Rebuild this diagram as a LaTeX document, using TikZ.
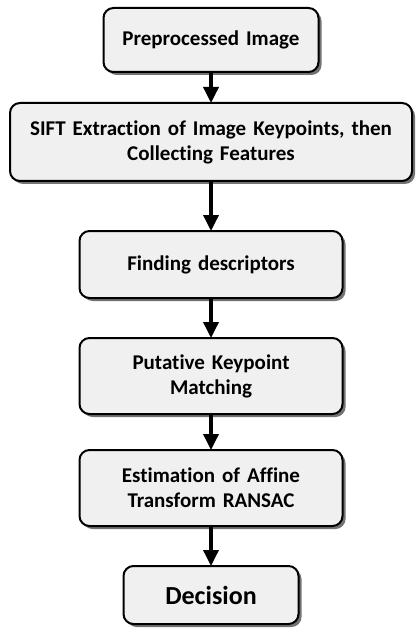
\documentclass[tikz,border=0pt]{standalone}
\usepackage{fontspec}
\setmainfont{Carlito}[Ligatures=NoCommon]
\usetikzlibrary{positioning,shadows,arrows.meta}
\definecolor{boxgray}{RGB}{240,240,240}

\begin{document}
\begin{tikzpicture}[x=1pt, y=1pt,
    every node/.style={inner sep=0pt, outer sep=0pt, text centered, font=\bfseries\fontsize{21}{25}\selectfont},
    stage/.style={draw, line width=2pt, rounded corners=10pt, fill=boxgray,
      drop shadow={shadow xshift=3pt, shadow yshift=-3pt, fill=black!55, opacity=1}},
    flow/.style={-{Triangle[length=16pt, width=15pt]}, line width=3.5pt}]
\useasboundingbox (0,0) rectangle (417,-628);

\node [stage, text width=215pt, minimum height=64pt] (pre) at (211,-40) {Preprocessed Image};
\node [stage, text width=402pt, minimum height=78pt, below=31pt of pre] (sift) {SIFT Extraction of Image Keypoints, then\\Collecting Features};
\node [stage, text width=263pt, minimum height=67pt, below=50pt of sift] (desc) {Finding descriptors};
\node [stage, text width=263pt, minimum height=76pt, below=40pt of desc] (match) {Putative Keypoint\\Matching};
\node [stage, text width=263pt, minimum height=76pt, below=36pt of match] (ransac) {Estimation of Affine\\Transform RANSAC};
\node [stage, text width=175pt, minimum height=58pt, below=40pt of ransac, font=\bfseries\fontsize{26}{30}\selectfont] (dec) {Decision};

\draw [flow] (pre) -- (sift);
\draw [flow] (sift) -- (desc);
\draw [flow] (desc) -- (match);
\draw [flow] (match) -- (ransac);
\draw [flow] (ransac) -- (dec);

\end{tikzpicture}
\end{document}
